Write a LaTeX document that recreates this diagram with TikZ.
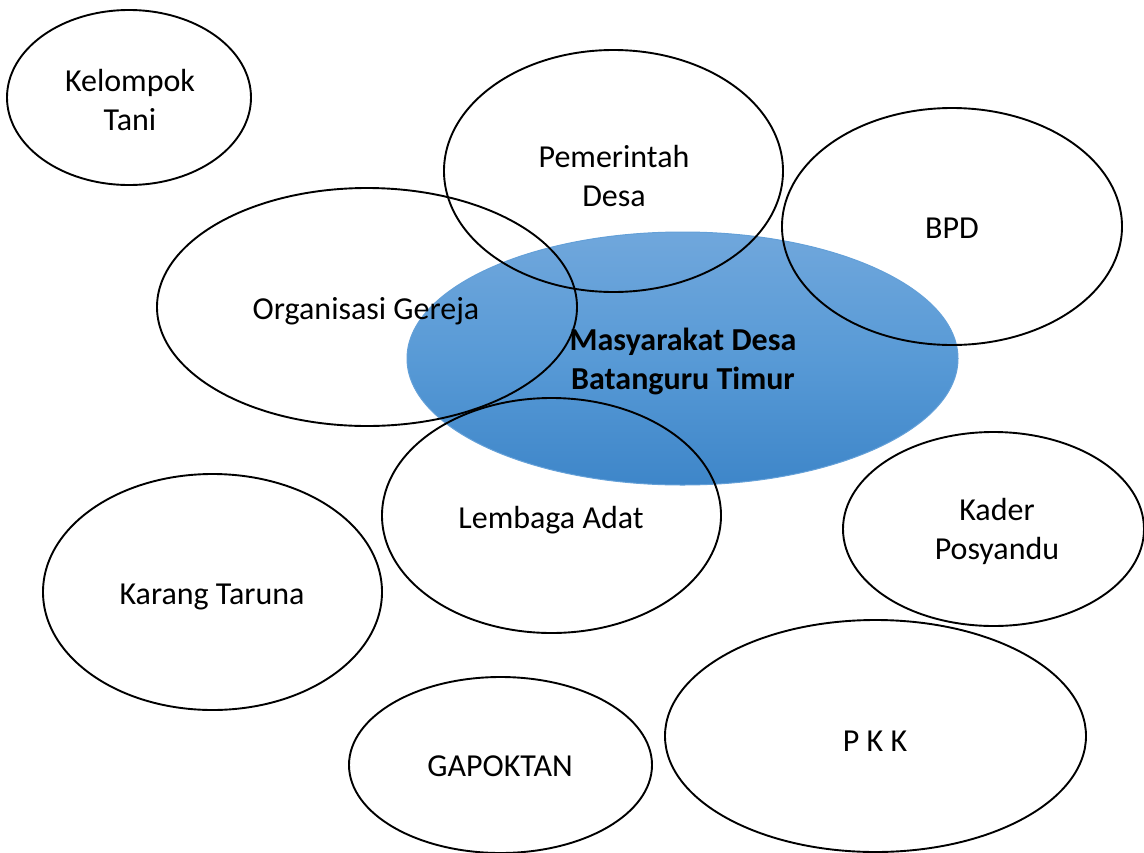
\documentclass[tikz,border=0pt]{standalone}
\usepackage{fontspec}
\setmainfont{Carlito}
\usetikzlibrary{shapes.geometric}
\definecolor{blueTop}{RGB}{112,167,220}
\definecolor{blueMid}{RGB}{88,154,214}
\definecolor{blueBot}{RGB}{62,134,201}
\definecolor{blueEdge}{RGB}{100,160,216}
\tikzset{
  oval/.style={ellipse, draw=black, line width=1.9pt, inner sep=0pt},
  lbl/.style={font=\fontsize{32}{39}\selectfont, align=center, anchor=base, inner sep=0pt},
}
\begin{document}
\begin{tikzpicture}[x=1pt,y=-1pt]
\useasboundingbox (0,0) rectangle (1144,852);
% central filled ellipse
\node[ellipse, inner sep=0pt, minimum width=551pt, minimum height=253pt,
      top color=blueTop, bottom color=blueBot, middle color=blueMid,
      draw=blueEdge, line width=1pt] (mas) at (682.5,358.5) {};
% outline ellipses
\node[oval, minimum width=244pt, minimum height=175pt] (kt) at (129,97.5) {};
\node[oval, minimum width=339pt, minimum height=242pt] (pd) at (613.5,171) {};
\node[oval, minimum width=340pt, minimum height=237pt] (bpd) at (952,226.5) {};
\node[oval, minimum width=420pt, minimum height=238pt] (og) at (367,307) {};
\node[oval, minimum width=339pt, minimum height=235pt] (la) at (551.5,515.5) {};
\node[oval, minimum width=301pt, minimum height=194pt] (kp) at (993.5,529) {};
\node[oval, minimum width=339pt, minimum height=236pt] (ktr) at (212.5,592) {};
\node[oval, minimum width=303pt, minimum height=176pt] (gp) at (500.5,765) {};
\node[oval, minimum width=421pt, minimum height=232pt] (pkk) at (875.5,736) {};
% labels (anchor base = last line's baseline)
\node[lbl] (tmas) at (683,389) {\bfseries Masyarakat Desa\\\bfseries Batanguru Timur};
\node[lbl] (tkt) at (130,130) {Kelompok\\Tani};
\node[lbl] (tpd) at (614,206) {Pemerintah\\Desa};
\node[lbl] (tbpd) at (952,238) {BPD};
\node[lbl] (tog) at (366,319) {Organisasi Gereja};
\node[lbl] (tla) at (551,528) {Lembaga Adat};
\node[lbl] (tkp) at (997,559) {Kader\\Posyandu};
\node[lbl] (tktr) at (212,604) {Karang Taruna};
\node[lbl] (tgp) at (500,776) {GAPOKTAN};
\node[lbl] (tpkk) at (875,751) {P K K};
\end{tikzpicture}
\end{document}
